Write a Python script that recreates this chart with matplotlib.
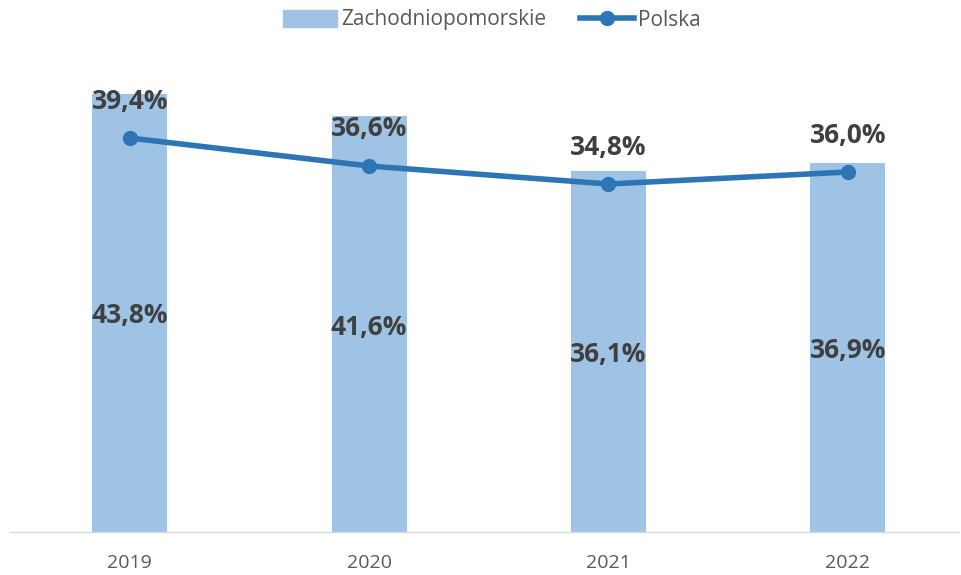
import matplotlib.pyplot as plt
from matplotlib.lines import Line2D
from matplotlib.patches import Patch

years = ["2019", "2020", "2021", "2022"]
zachodniopomorskie = [43.8, 41.6, 36.1, 36.9]
polska = [39.4, 36.6, 34.8, 36.0]

bar_color = "#9FC3E4"
line_color = "#2E75B6"
text_color = "#404040"

plt.rcParams["font.family"] = ["Open Sans", "DejaVu Sans"]

W, H = 961, 575
fig = plt.figure(figsize=(W / 100, H / 100), dpi=100)
ax = fig.add_axes([10 / W, 43 / H, 948 / W, 500 / H])

x = list(range(len(years)))
ax.bar(x, zachodniopomorskie, width=75 / 239.3, color=bar_color, zorder=1)
ax.plot(x, polska, color=line_color, lw=4, marker="o", markersize=10, zorder=3)

for xi, v in zip(x, zachodniopomorskie):
    ax.text(xi, v / 2 - 0.3, f"{v:.1f}%".replace(".", ","), ha="center", va="center",
            fontsize=19, fontweight="bold", color=text_color, zorder=4)
for xi, v in zip(x, polska):
    ax.text(xi, v + 3.7, f"{v:.1f}%".replace(".", ","), ha="center", va="center",
            fontsize=19, fontweight="bold", color=text_color, zorder=4)

ax.set_xlim(-0.5, 3.46)
ax.set_ylim(0, 50)
ax.set_xticks(x)
ax.set_xticklabels(years, fontsize=14, color="#595959")
ax.tick_params(axis="x", length=0, pad=16)
ax.set_yticks([])
for s in ["top", "right", "left"]:
    ax.spines[s].set_visible(False)
ax.spines["bottom"].set_color("#D9D9D9")
ax.spines["bottom"].set_linewidth(1)

handles = [Patch(color=bar_color, label="Zachodniopomorskie"),
           Line2D([], [], color=line_color, lw=4, marker="o", markersize=10, label="Polska")]
fig.legend(handles=handles, loc="center", bbox_to_anchor=(492 / W, 1 - 20 / H), ncol=2,
           frameon=False, fontsize=15, labelcolor="#595959", handlelength=2.6,
           handleheight=0.9, handletextpad=0.2, columnspacing=1.6)

fig.savefig("out.png", dpi=100)
